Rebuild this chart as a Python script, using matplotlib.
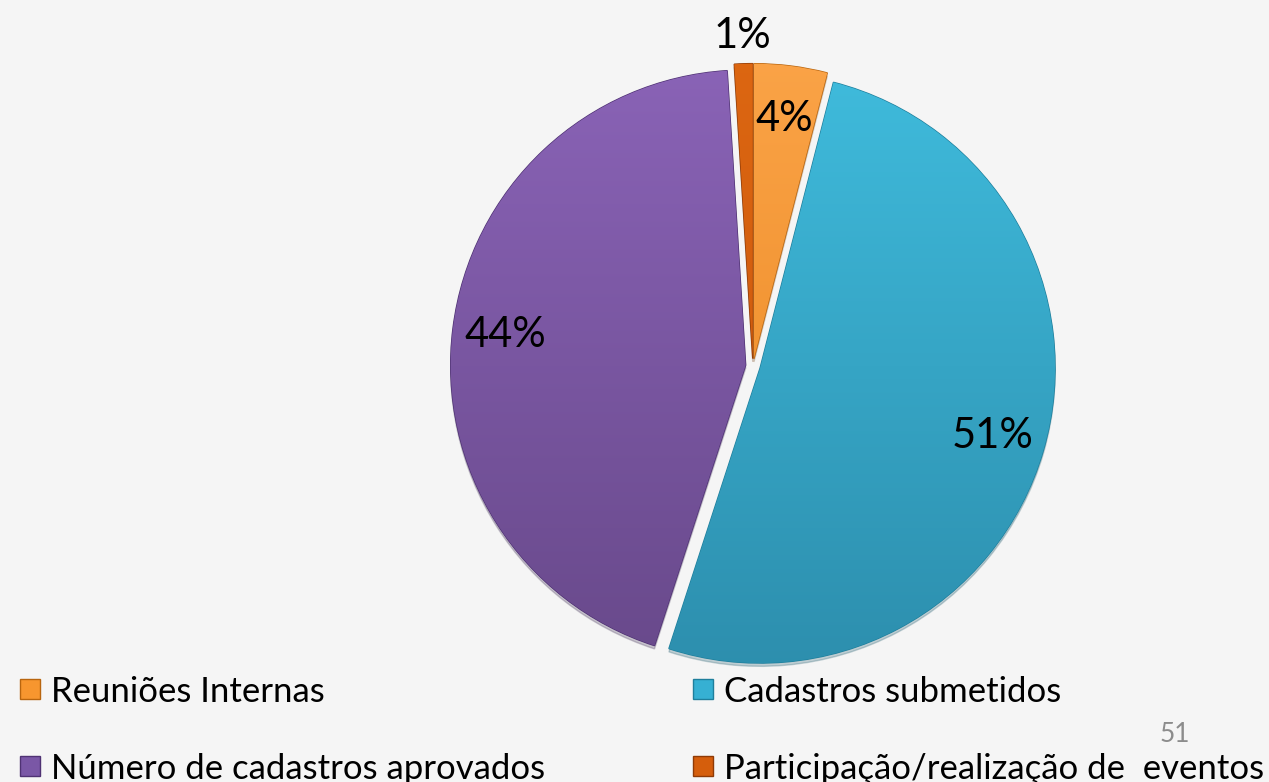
import numpy as np
import matplotlib.pyplot as plt
from matplotlib.lines import Line2D
from matplotlib.colors import LinearSegmentedColormap

plt.rcParams['font.family'] = ['Lato', 'DejaVu Sans']

# data
categories = ['Reuniões Internas', 'Cadastros submetidos',
              'Número de cadastros aprovados', 'Participação/realização de  eventos']
values = [4, 51, 44, 1]
colors = ['#F7962F', '#36B0D3', '#7A57A6', '#D55E0C']
tops = ['#FBA448', '#40BDDE', '#8B64B8', '#DD6712']
bottoms = ['#E8841C', '#2C8DAC', '#674889', '#C4520A']
edges = ['#B8650F', '#1F7F9C', '#4F3273', '#8F3A05']

W, H = 1269, 782
fig = plt.figure(figsize=(W / 100, H / 100), dpi=100)
fig.patch.set_facecolor('#F5F5F5')

# pie axes: center ~ (753, 366) px, radius ~ 295 px
cx, cy, r = 753, 366, 295
lim = 1.15
half = lim * r
ax = fig.add_axes([(cx - half) / W, (H - cy - half) / H, 2 * half / W, 2 * half / H])

wedges, texts, autotexts = ax.pie(
    values, colors=colors, startangle=90, counterclock=False,
    explode=[0.025] * len(values), autopct='%1.0f%%', pctdistance=0.82,
    wedgeprops=dict(linewidth=1.0),
    shadow={'ox': 0.0, 'oy': -0.008, 'shade': 0.5, 'alpha': 0.25},
    textprops=dict(fontsize=30, color='black'))

ax.set_xlim(-lim, lim)
ax.set_ylim(-lim, lim)
ax.set_aspect('equal')
ax.axis('off')

# vertical gradient on each slice, lighter on top
grad = np.linspace(1, 0, 256).reshape(-1, 1)
for w, top, bot, ec in zip(wedges, tops, bottoms, edges):
    w.set_edgecolor(ec)
    cmap = LinearSegmentedColormap.from_list('g', [bot, top])
    im = ax.imshow(grad, cmap=cmap, extent=[-1.1, 1.1, -1.1, 1.1],
                   origin='upper', aspect='auto', zorder=w.get_zorder() + 0.1)
    im.set_clip_path(w)

for t in autotexts:
    t.set_zorder(5)

# small slice label sits outside the pie
for w, t, v in zip(wedges, autotexts, values):
    if v < 2:
        ang = np.deg2rad((w.theta1 + w.theta2) / 2)
        t.set_position((1.12 * np.cos(ang), 1.12 * np.sin(ang)))

# legend (two columns, row-wise order)
order = [0, 2, 1, 3]
handles = [Line2D([], [], marker='s', linestyle='', markersize=15,
                  markerfacecolor=colors[i], markeredgecolor=edges[i])
           for i in order]
fig.legend(handles, [categories[i] for i in order], ncol=2,
           loc='lower left', bbox_to_anchor=(-5 / W, -20 / H),
           frameon=False, fontsize=25, handletextpad=0.1, borderpad=0,
           columnspacing=4.06, labelspacing=1.3, handlelength=1.0)

fig.text(1175 / W, 1 - 735 / H, '51', fontsize=19, color='#8C8C8C',
         ha='center', va='center')

fig.savefig('out.png', dpi=100, facecolor=fig.get_facecolor())
